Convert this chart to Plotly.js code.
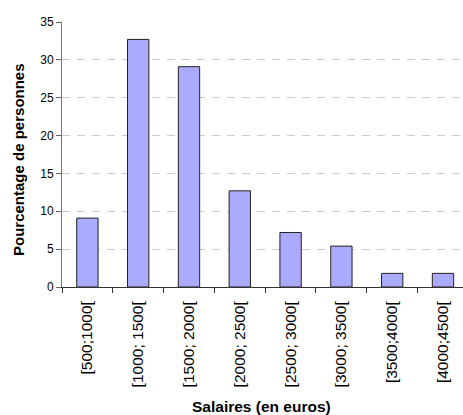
<!DOCTYPE html>
<html>
<head>
<meta charset="utf-8">
<script src="https://cdn.plot.ly/plotly-3.0.1.min.js"></script>
<style>html,body{margin:0;padding:0;background:#fff;}#chart{width:463px;height:415px;}</style>
</head>
<body>
<div id="chart"></div>
<script>
var categories = ["[500;1000[", "[1000; 1500[", "[1500; 2000[", "[2000; 2500[", "[2500; 3000[", "[3000; 3500[", "[3500;4000[", "[4000;4500["];
var percentages = [9.1, 32.7, 29.1, 12.7, 7.2, 5.4, 1.8, 1.8];
var yTicks = [0, 5, 10, 15, 20, 25, 30, 35];
var xTitle = 'Salaires (en euros)';
var yTitle = 'Pourcentage de personnes';

var trace = {
  type: 'bar',
  x: categories,
  y: percentages,
  marker: {color: '#aaaaff', line: {color: '#222222', width: 1}},
  hoverinfo: 'none'
};

var layout = {
  width: 463, height: 415,
  margin: {l: 62, r: 0, t: 22, b: 128},
  paper_bgcolor: '#ffffff', plot_bgcolor: '#ffffff',
  bargap: 0.58,
  showlegend: false,
  font: {family: 'Liberation Sans, Arial, sans-serif', color: '#000'},
  xaxis: {
    type: 'category',
    range: [-0.5, 7.394],
    tickson: 'boundaries',
    ticks: 'outside', ticklen: 5, tickcolor: '#333',
    ticklabelstandoff: 7,
    showline: true, linecolor: '#333', linewidth: 1,
    showgrid: false,
    tickangle: -90,
    tickfont: {size: 15.5},
    automargin: false
  },
  yaxis: {
    range: [0, 35],
    tickvals: yTicks,
    ticks: 'outside', ticklen: 5, tickcolor: '#666',
    showline: true, linecolor: '#777', linewidth: 1,
    showgrid: true, gridcolor: '#cccccc', griddash: '8px,7px', gridwidth: 1,
    zeroline: false,
    tickfont: {size: 12},
    automargin: false
  },
  annotations: [
    {text: '<b>' + xTitle + '</b>', xref: 'paper', yref: 'paper',
     x: (261 - 62) / 401, y: -(406 - 287) / 265, xanchor: 'center', yanchor: 'middle',
     showarrow: false, font: {size: 15.5}},
    {text: '<b>' + yTitle + '</b>', xref: 'paper', yref: 'paper',
     x: (18 - 62) / 401, y: (287 - 160) / 265, xanchor: 'center', yanchor: 'middle',
     textangle: -90, showarrow: false, font: {size: 15}}
  ]
};

Plotly.newPlot('chart', [trace], layout, {staticPlot: true, displayModeBar: false});
</script>
</body>
</html>
